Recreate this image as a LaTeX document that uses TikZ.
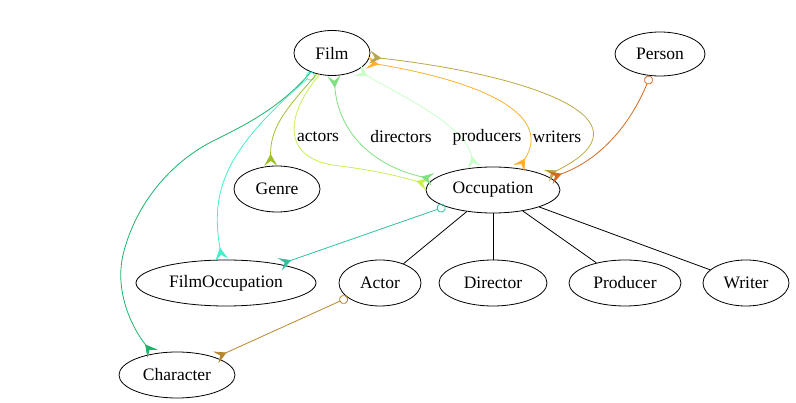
\documentclass[tikz,border=0pt]{standalone}
\usepackage{fontspec}
\setmainfont{Liberation Serif}
\usetikzlibrary{arrows.meta, shapes.geometric}
\definecolor{GenreOlive}{HTML}{9DC02A}
\definecolor{CharGreen}{HTML}{1DB36A}
\definecolor{FOTurq}{HTML}{40F0C8}
\definecolor{ActLime}{HTML}{C8F050}
\definecolor{DirGreen}{HTML}{80E080}
\definecolor{ProdPale}{HTML}{C8FFC8}
\definecolor{WriOrange}{HTML}{FFB030}
\definecolor{FilmKhaki}{HTML}{B8A848}
\definecolor{PersChoc}{HTML}{D2691E}
\definecolor{OccTeal}{HTML}{30C0A0}
\definecolor{ActBrown}{HTML}{B8862E}

\begin{document}
\begin{tikzpicture}[x=1pt, y=-1pt,
  ent/.style={draw, ellipse, line width=0.8pt, inner sep=0pt, font=\fontsize{17.5}{20}\selectfont},
  lbl/.style={font=\fontsize{17.5}{20}\selectfont, inner sep=1pt},
  link/.style={line width=0.8pt},
  crowtip/.tip={Stealth[reversed, length=12pt, width=13pt, inset=5pt]},
  opttip/.tip={Circle[open, length=9pt, line width=0.8pt]},
]
  \useasboundingbox (0,0) rectangle (796,403);
  % Entities
  \node[ent, minimum width=76pt, minimum height=45pt] (film) at (332,53) {Film};
  \node[ent, minimum width=90pt, minimum height=44pt] (person) at (660,54) {Person};
  \node[ent, minimum width=86pt, minimum height=46pt] (genre) at (277,189) {Genre};
  \node[ent, minimum width=134pt, minimum height=46pt] (occ) at (493,190) {Occupation};
  \node[ent, minimum width=180pt, minimum height=46pt] (filmocc) at (226,283) {FilmOccupation};
  \node[ent, minimum width=82pt, minimum height=46pt] (actor) at (380,283) {Actor};
  \node[ent, minimum width=108pt, minimum height=46pt] (director) at (493,283) {Director};
  \node[ent, minimum width=112pt, minimum height=46pt] (producer) at (625,283) {Producer};
  \node[ent, minimum width=86pt, minimum height=46pt] (writer) at (746,283) {Writer};
  \node[ent, minimum width=116pt, minimum height=46pt] (character) at (177,375) {Character};
  % Subtypes of Occupation
  \draw[link] (occ) -- (actor);
  \draw[link] (occ) -- (director);
  \draw[link] (occ) -- (producer);
  \draw[link] (occ) -- (writer);
  % Relations from Film
  \draw[link, draw=CharGreen, -{crowtip}] (film.222) .. controls (280,108) and (245,125) .. (215,140)
    .. controls (170,162) and (135,205) .. (123,255)
    .. controls (115,290) and (130,325) .. (character.139);
  \draw[link, draw=FOTurq, {opttip}-{crowtip}] (film.228) .. controls (225,150) and (210,190) .. (filmocc.100);
  \draw[link, draw=GenreOlive, -{crowtip}] (film.234) .. controls (290,105) and (270,125) .. (genre.105);
  \draw[link, draw=ActLime, -{crowtip}] (film.240) .. controls (285,115) and (280,160) .. (340,166)
    .. controls (380,171) and (405,178) .. (occ.175);
  \draw[link, draw=DirGreen, {crowtip}-{crowtip}] (film.275) .. controls (338,130) and (370,165) .. (occ.170);
  \draw[link, draw=ProdPale, {crowtip}-{crowtip}] (film.326) .. controls (400,95) and (465,125) .. (occ.130);
  \draw[link, draw=WriOrange, {crowtip}-{crowtip}] (film.345) .. controls (500,85) and (550,120) .. (occ.40);
  \draw[link, draw=FilmKhaki, {crowtip}-{crowtip}] (film.354) .. controls (530,75) and (660,120) .. (occ.15);
  % Other relations
  \draw[link, draw=PersChoc, {opttip}-{crowtip}] (person.246) .. controls (630,125) and (600,160) .. (occ.12);
  \draw[link, draw=OccTeal, {opttip}-{crowtip}] (occ) -- (filmocc);
  \draw[link, draw=ActBrown, {opttip}-{crowtip}] (actor) -- (character);
  % Role labels
  \node[lbl] (actorslbl) at (318,137) {actors};
  \node[lbl] (directorslbl) at (401,137) {directors};
  \node[lbl] (producerslbl) at (487,137) {producers};
  \node[lbl] (writerslbl) at (557,137) {writers};
\end{tikzpicture}
\end{document}
